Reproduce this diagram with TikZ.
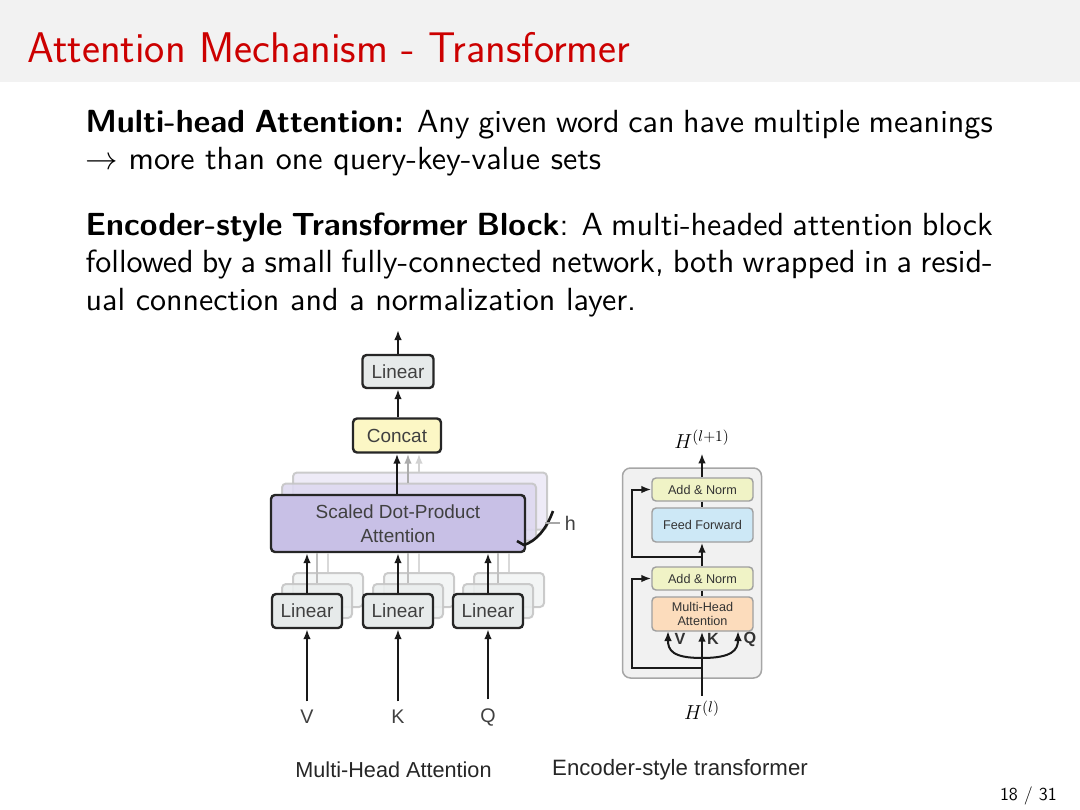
\documentclass[tikz,border=0pt]{standalone}
\usepackage{fontspec}
\newfontfamily\diagfont{Liberation Sans}
\usepackage{tikz}
\usetikzlibrary{positioning}
\usetikzlibrary{arrows.meta}

\definecolor{titlered}{RGB}{204,0,0}
\definecolor{bandgray}{RGB}{242,242,242}
\definecolor{lingray}{RGB}{230,234,234}
\definecolor{catyellow}{RGB}{252,247,197}
\definecolor{sdpurple}{RGB}{200,192,230}
\definecolor{normgreen}{RGB}{240,243,198}
\definecolor{ffblue}{RGB}{205,232,246}
\definecolor{mhapeach}{RGB}{252,220,188}
\definecolor{encgray}{RGB}{241,241,241}

\newlength\px
\setlength\px{0.025cm}
\newcommand\fullline[1]{\makebox[\hsize][s]{\spaceskip=0pt\xspaceskip=0pt #1}\\}

\begin{document}
\begin{tikzpicture}[x=0.025cm, y=-0.025cm,
        lin/.style={rectangle, rounded corners=4\px, draw=black!85, line width=2.4\px, fill=lingray, font=\diagfont\fontsize{13.5}{14}\selectfont, text=black!75, minimum width=70\px, minimum height=34\px, inner sep=0pt},
        ghost/.style={rectangle, rounded corners=4\px, draw=gray!45, line width=2\px, fill=white, opacity=0.9},
        blk/.style={rectangle, rounded corners=4\px, draw=gray!75, line width=1.4\px, font=\diagfont\fontsize{9}{10.5}\selectfont, text=black!80, minimum width=101\px, inner sep=0pt, align=center},
        arr/.style={-{Latex[length=0.25cm,width=0.19cm]}, line width=2.2\px, black!90},
        garr/.style={-{Latex[length=0.25cm,width=0.19cm]}, line width=2.2\px},
        wire/.style={-, line width=2.2\px, black!90},
        lbl/.style={font=\diagfont\fontsize{14}{16}\selectfont, text=black!75},
        para/.style={anchor=base west, inner sep=0pt, scale=2.109, transform shape, text width=305.9pt, align=left, font=\sffamily\fontsize{10.8}{12.75}\selectfont},
        enclbl/.style={font=\diagfont\bfseries\fontsize{11.5}{12}\selectfont, text=black!80},
        remember picture
    ]
        % slide frame
        \useasboundingbox (0,0) rectangle (1080,810);
        \fill[bandgray] (0,0) rectangle (1080,82);
        \node[anchor=base west, inner sep=0pt, text=titlered, font=\sffamily\fontsize{30.5}{36}\selectfont] (title) at (27,62) {Attention Mechanism - Transformer};

        \node[para] (p1) at (85,132)
            {\fullline{\textbf{Multi-head Attention:} Any given word can have multiple meanings}
             $\rightarrow$ more than one query-key-value sets};
        \node[para] (p2) at (85,235)
            {\fullline{\textbf{Encoder-style Transformer Block}: A multi-headed attention block}
             \fullline{followed by a small fully-connected network, both wrapped in a resid-}
             ual connection and a normalization layer.};

        % multi-head attention: stacked heads
        \node[ghost, minimum width=254\px, minimum height=57\px, fill=sdpurple!35] (sd3) at (420,501) {};
        \node[ghost, minimum width=254\px, minimum height=57\px, fill=sdpurple!60] (sd2) at (409,512) {};
        \foreach \n/\cx in {v/307, k/398, q/488}{
            \node[ghost, minimum width=70\px, minimum height=34\px, fill=lingray!50] (\n3) at (\cx+21,590) {};
            \node[ghost, minimum width=70\px, minimum height=34\px, fill=lingray!80] (\n2) at (\cx+10,601) {};
        }
        \node[lin, fill=sdpurple, minimum width=254\px, minimum height=57\px, align=center, font=\diagfont\fontsize{13.5}{17}\selectfont] (sdpa) at (398,523.5) {Scaled Dot-Product\\Attention};
        \node[lin] (linv) at (307,611) {Linear};
        \node[lin] (link) at (398,611) {Linear};
        \node[lin] (linq) at (488,611) {Linear};
        \node[lin, fill=catyellow, minimum width=88\px] (concat) at (397,435.5) {Concat};
        \node[lin, minimum width=71\px, minimum height=33\px] (linout) at (398,371.5) {Linear};
        \coordinate (out) at (398,330);

        \node[lbl] (v) at (307,717) {V};
        \node[lbl] (k) at (398,717) {K};
        \node[lbl] (q) at (488,717) {Q};

        \foreach \n in {v,k,q}{
            \draw[wire, gray!30] (\n3.north) -- (\n3.north |- sdpa.south);
            \draw[wire, gray!50] (\n2.north) -- (\n2.north |- sdpa.south);
            \draw[arr] (lin\n.north) -- (lin\n.north |- sdpa.south);
            \draw[arr, shorten <=4\px] (\n.north) -- (lin\n.south);
        }
        \draw[garr, gray!35] (sd3.north -| 419,0) -- (concat.south -| 419,0);
        \draw[garr, gray!65] (sd2.north -| 408,0) -- (concat.south -| 408,0);
        \draw[arr] (sdpa.north -| concat.south) -- (concat.south);
        \draw[arr] (concat.north -| linout.south) -- (linout.south);
        \draw[arr] (linout.north) -- (out);

        % h brace
        \node[lbl, anchor=west] (h) at (560,523) {h};
        \draw[line width=2.6\px, black!90] (553,511) .. controls (546,530) and (536,541) .. (524,545) -- (517,541);
        \draw[line width=1.6\px, gray!70] (545,523) -- (h.west);

        % encoder-style transformer
        \node[rectangle, rounded corners=8\px, draw=gray!70, line width=1.5\px, fill=encgray, minimum width=139\px, minimum height=210\px] (enc) at (692,573) {};
        \node[blk, fill=normgreen, minimum height=23\px] (an1) at (702.5,489.5) {Add \& Norm};
        \node[blk, fill=ffblue, minimum height=34\px] (ff) at (702.5,525) {Feed Forward};
        \node[blk, fill=normgreen, minimum height=23\px] (an2) at (702.5,578.5) {Add \& Norm};
        \node[blk, fill=mhapeach, minimum height=34\px] (mha) at (702.5,614) {Multi-Head\\Attention};
        \node[font=\fontsize{15}{16}\selectfont] (hout) at (702,439) {$H^{(l+1)}$};
        \node[font=\fontsize{15}{16}\selectfont] (hin) at (702,710) {$H^{(l)}$};

        \coordinate (r1) at (702,557);
        \coordinate (r2) at (702,668);
        \coordinate (split) at (702,658);
        \coordinate (vin) at (668,631);
        \coordinate (qin) at (738,631);

        \draw[arr, line width=2\px] (an1.north -| hout.south) -- (hout.south);
        \draw[wire, line width=2\px] (an1.south -| 702,0) -- (ff.north -| 702,0);
        \draw[wire, line width=2\px] (an2.south -| 702,0) -- (mha.north -| 702,0);
        \draw[arr, line width=2\px] (an2.north -| 702,0) -- (ff.south -| 702,0);
        \draw[arr, line width=2\px] (hin.north) -- (mha.south -| 702,0);
        \draw[arr, line width=2\px] (r1) -| (632,489.5) -- (an1.west);
        \draw[arr, line width=2\px] (r2) -| (632,578.5) -- (an2.west);
        \draw[arr, line width=2\px] (split) .. controls (672,658) and (668,650) .. (vin);
        \draw[arr, line width=2\px] (split) .. controls (732,658) and (738,650) .. (qin);
        \node[enclbl] (ev) at (680,639) {V};
        \node[enclbl] (ek) at (713,639) {K};
        \node[enclbl] (eq) at (750,639) {Q};

        % captions and page number
        \node[font=\diagfont\fontsize{15.4}{17}\selectfont, text=black!85] (cap1) at (393.5,770) {Multi-Head Attention};
        \node[font=\diagfont\fontsize{15.8}{17}\selectfont, text=black!85] (cap2) at (680,770) {Encoder-style transformer};
        \node[anchor=base east, inner sep=0pt, font=\sffamily\fontsize{13}{14}\selectfont] (page) at (1057,800) {18 / 31};
    \end{tikzpicture}
\end{document}
